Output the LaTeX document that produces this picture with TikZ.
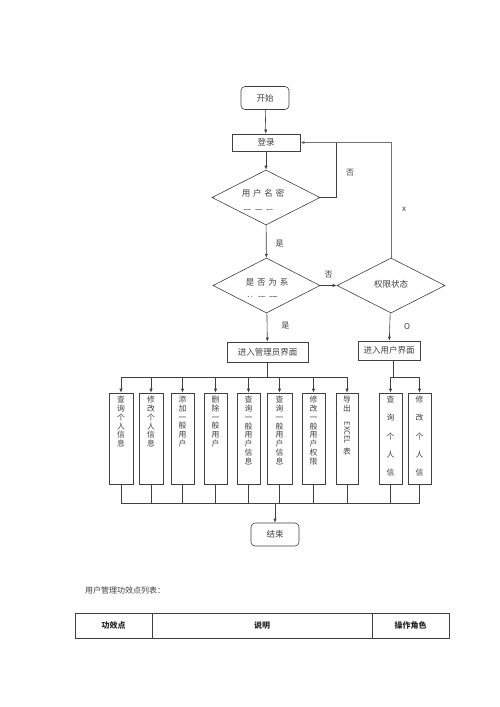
\documentclass[tikz,border=0pt]{standalone}
\usepackage{fontspec}
\setmainfont{Noto Sans CJK SC}
\usetikzlibrary{shapes.geometric,arrows.meta}
\begin{document}
\begin{tikzpicture}[x=1pt,y=-1pt,
  ln/.style={draw=black!75,line width=0.6pt},
  arr/.style={ln,-{Latex[length=4pt,width=3.2pt]}},
  txt/.style={text=black!75,font=\fontsize{8}{9}\selectfont,inner sep=0pt},
  rbox/.style={ln,rectangle,rounded corners=4pt,minimum width=48pt,minimum height=23pt,inner sep=0pt,text=black!75,font=\fontsize{8.5}{10}\selectfont},
  pbox/.style={ln,rectangle,inner sep=0pt,text=black!75,font=\fontsize{8.5}{10}\selectfont},
  dia/.style={ln,diamond,inner sep=0pt,minimum width=108pt,minimum height=55pt},
  vbox/.style={ln,rectangle,minimum width=24pt,minimum height=91pt,inner sep=0pt},
  vtxt/.style={txt,anchor=north,align=center,font=\fontsize{7.8}{8.75}\selectfont},
  vtxtw/.style={txt,anchor=north,align=center,font=\fontsize{7.8}{18.2}\selectfont}
]
\useasboundingbox (0,0) rectangle (500,707);
\fill[white] (0,0) rectangle (500,707);

% top part
\node[rbox] (start) at (265,98) {开始};
\node[pbox,minimum width=68pt,minimum height=17pt] (login) at (266,142.5) {登录};
\node[dia] (d1) at (266,197.5) {};
\node[txt,font=\fontsize{8.5}{10}\selectfont] (d1t) at (263,193) {用\,\,户\,\,名\,\,密};
\begin{scope}
\clip (220,205.5) rectangle (310,209.3);
\node[txt,font=\fontsize{8.5}{10}\selectfont] (d1s) at (259,213) {码\,\,正\,\,确};
\end{scope}
\node[dia,minimum width=107pt] (d2) at (266.5,285.5) {};
\node[txt,font=\fontsize{8.5}{10}\selectfont] (d2t) at (267,282) {是\,\,否\,\,为\,\,系};
\begin{scope}
\clip (225,292.5) rectangle (310,296.3);
\node[txt,font=\fontsize{8.5}{10}\selectfont] (d2s) at (262,300) {统\,\,管\,\,理};
\end{scope}
\node[dia] (d3) at (391,285.5) {};
\node[txt,font=\fontsize{8.5}{10}\selectfont] (d3t) at (391,284) {权限状态};

\node[pbox,minimum width=81pt,minimum height=20pt] (admin) at (267.5,352) {进入管理员界面};
\node[pbox,minimum width=62pt,minimum height=19pt] (user) at (389,350.5) {进入用户界面};

\draw[arr] (start) -- (login);
\draw[arr] (login) -- (d1);
\draw[arr] (d1) -- (d2) node[txt,pos=0.55,right=9pt] (l1) {是};
\coordinate (jn) at (336,142.5);
\draw[ln] (d1.east) -| (jn);
\draw[arr,draw=black!55] (d3.north) |- (login.east);
\node[txt] (l2) at (350,173) {否};
\node[txt] (l3) at (404,209) {x};
\draw[arr] (d2.east) -- (d3.west) node[txt,midway,above=7pt] (l4) {否};
\draw[arr] (d2) -- (admin) node[txt,pos=0.45,right=14pt] (l5) {是};
\draw[arr] (d3) -- (user) node[txt,midway,right=14pt] (l6) {O};

% function boxes
\node[vbox] (b1) at (121,438.5) {};
\node[vbox] (b2) at (151,438.5) {};
\node[vbox,minimum width=23pt] (b3) at (182.5,438.5) {};
\node[vbox,minimum width=23pt] (b4) at (215.5,438.5) {};
\node[vbox,minimum width=23pt] (b5) at (248.5,438.5) {};
\node[vbox,minimum width=25pt] (b6) at (279.5,438.5) {};
\node[vbox,minimum width=23pt] (b7) at (313.5,438.5) {};
\node[vbox,minimum width=22pt] (b8) at (347,438.5) {};
\node[vbox,minimum width=23pt] (b9) at (390.5,438.5) {};
\node[vbox,minimum width=23pt] (b10) at (419.5,438.5) {};

\node[vtxt] (t1) at (121,396) {查\\询\\个\\人\\信\\息};
\node[vtxt] (t2) at (151,396) {修\\改\\个\\人\\信\\息};
\node[vtxt] (t3) at (182.5,396) {添\\加\\一\\般\\用\\户};
\node[vtxt] (t4) at (215.5,396) {删\\除\\一\\般\\用\\户};
\node[vtxt] (t5) at (248.5,396) {查\\询\\一\\般\\用\\户\\信\\息};
\node[vtxt] (t6) at (279.5,396) {查\\询\\一\\般\\用\\户\\信\\息};
\node[vtxt] (t7) at (313.5,396) {修\\改\\一\\般\\用\\户\\权\\限};
\node[vtxt] (t8) at (347,396) {导\\出\\[2pt]\rotatebox{-90}{\fontsize{7.5}{8}\selectfont EXCEL}\\[3pt]表};
\node[vtxtw] (t9) at (390.5,396) {查\\询\\个\\人\\信};
\node[vtxtw] (t10) at (419.5,396) {修\\改\\个\\人\\信};

% upper bus
\coordinate (ua) at (267.5,377);
\coordinate (ub) at (393,377);
\draw[ln] (admin.south) -- (ua);
\draw[ln] (b1.north |- ua) -- (b8.north |- ua);
\foreach \b in {b1,b2,b3,b4,b5,b6,b7,b8} \draw[arr] (\b.north |- ua) -- (\b.north);
\draw[ln] (ub |- user.south) -- (ub);
\draw[ln] (b9.north |- ub) -- (b10.north |- ub);
\foreach \b in {b9,b10} \draw[arr] (\b.north |- ub) -- (\b.north);

% lower bus
\coordinate (la) at (275,503);
\foreach \b in {b1,b2,b3,b4,b5,b6,b7,b8,b9,b10} \draw[ln] (\b.south) -- (\b.south |- la);
\draw[ln] (b1.south |- la) -- (b10.south |- la);
\node[rbox] (end) at (275,534.5) {结束};
\draw[arr] (la) -- (end);

% table
\node[txt,anchor=west] (cap) at (85,590.5) {用户管理功效点列表：};
\node[ln,rectangle,minimum width=77pt,minimum height=25pt,inner sep=0pt,font=\fontsize{8}{9}\selectfont\bfseries,text=black!85] (c1) at (113.5,625.5) {功效点};
\node[ln,rectangle,minimum width=220pt,minimum height=25pt,inner sep=0pt,font=\fontsize{8}{9}\selectfont\bfseries,text=black!85] (c2) at (262,625.5) {说明};
\node[ln,rectangle,minimum width=77pt,minimum height=25pt,inner sep=0pt,font=\fontsize{8}{9}\selectfont\bfseries,text=black!85] (c3) at (410.5,625.5) {操作角色};
\end{tikzpicture}
\end{document}
